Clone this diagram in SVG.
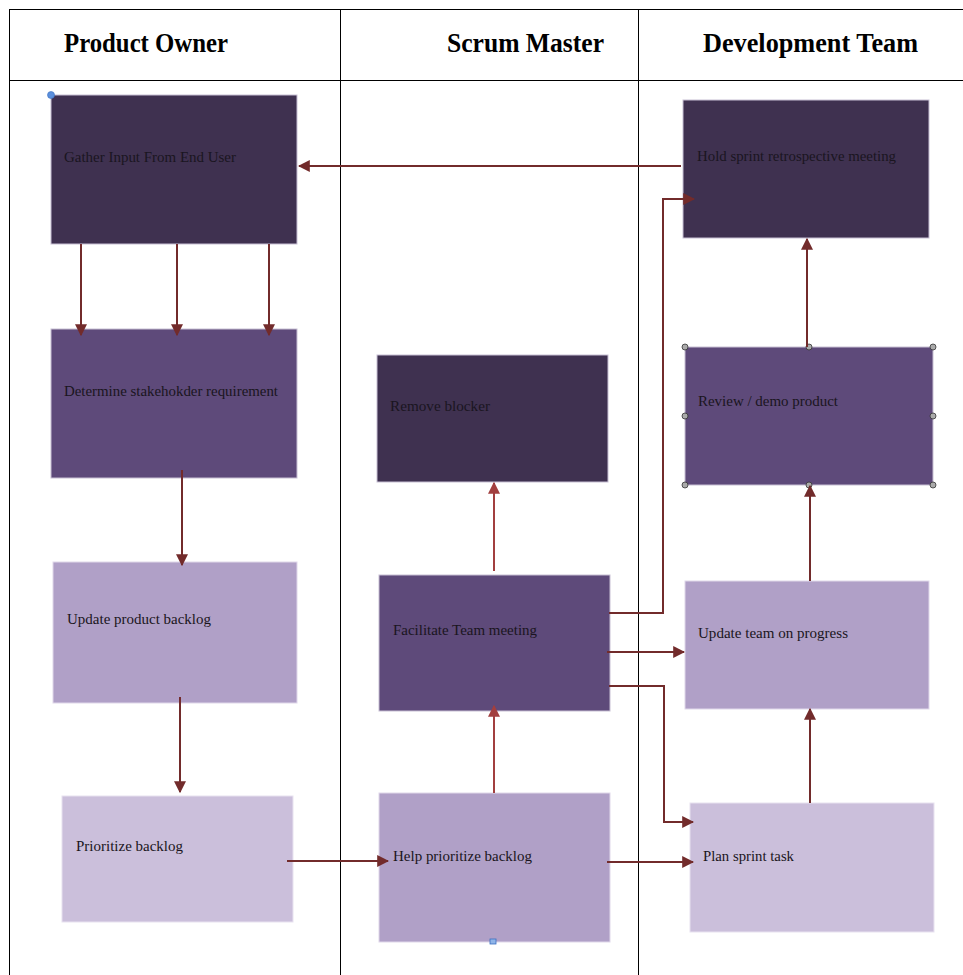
<svg xmlns="http://www.w3.org/2000/svg" width="963" height="975" viewBox="0 0 963 975">
<style>
.hdr{font-family:"Liberation Serif",serif;font-weight:bold;font-size:27px;fill:#000}
.lbl{font-family:"Liberation Serif",serif;font-size:15px;fill:#1a1520}
.c1{fill:#3f3150;stroke:#c8c0d4;stroke-width:1}
.c2{fill:#5e4a7a;stroke:#c8c0d4;stroke-width:1}
.c3{fill:#b0a0c7;stroke:#e0d8ea;stroke-width:1}
.c4{fill:#cbbfdb;stroke:#e8e2f0;stroke-width:1}
.cn{fill:none;stroke:#722b2b;stroke-width:2}
.cl{fill:none;stroke:#a23f3f;stroke-width:2}
.grid{stroke:#000;stroke-width:1;fill:none}
.hd{fill:#aaa;stroke:#333;stroke-width:0.8}
</style>
<defs>
<marker id="ah" viewBox="0 0 10 10" refX="9" refY="5" markerWidth="6" markerHeight="6" orient="auto" markerUnits="strokeWidth"><path d="M0,0 L10,5 L0,10 z" fill="#722b2b"/></marker>
<marker id="ahl" viewBox="0 0 10 10" refX="9" refY="5" markerWidth="6" markerHeight="6" orient="auto" markerUnits="strokeWidth"><path d="M0,0 L10,5 L0,10 z" fill="#a23f3f"/></marker>
</defs>
<rect width="963" height="975" fill="#fff"/>
<g id="table">
<line class="grid" x1="9" y1="9.5" x2="963" y2="9.5" stroke-width="1.5"/>
<line class="grid" x1="9.5" y1="9" x2="9.5" y2="975"/>
<line class="grid" x1="340.5" y1="9" x2="340.5" y2="975"/>
<line class="grid" x1="638.5" y1="9" x2="638.5" y2="975"/>
<line class="grid" x1="9" y1="80.5" x2="963" y2="80.5"/>
<text class="hdr" x="64" y="52" textLength="164" lengthAdjust="spacingAndGlyphs">Product Owner</text>
<text class="hdr" x="447" y="52" textLength="157" lengthAdjust="spacingAndGlyphs">Scrum Master</text>
<text class="hdr" x="703" y="52" textLength="215" lengthAdjust="spacingAndGlyphs">Development Team</text>
</g>
<g id="n-gather"><rect class="c1" x="51" y="95" width="246" height="149"/><text class="lbl" x="64" y="162" textLength="172" lengthAdjust="spacingAndGlyphs">Gather Input From End User</text><circle cx="51" cy="95" r="3.5" fill="#5b8fdc" stroke="#3a6fc0" stroke-width="0.6"/></g>
<g id="n-determine"><rect class="c2" x="51" y="329" width="246" height="149"/><text class="lbl" x="64" y="396" textLength="214" lengthAdjust="spacingAndGlyphs">Determine stakehokder requirement</text></g>
<g id="n-update-backlog"><rect class="c3" x="53" y="562" width="244" height="141"/><text class="lbl" x="67" y="624" textLength="144" lengthAdjust="spacingAndGlyphs">Update product backlog</text></g>
<g id="n-prioritize"><rect class="c4" x="62" y="796" width="231" height="126"/><text class="lbl" x="76" y="851" textLength="107" lengthAdjust="spacingAndGlyphs">Prioritize backlog</text></g>
<g id="n-remove"><rect class="c1" x="377" y="355" width="231" height="127"/><text class="lbl" x="390" y="411" textLength="100" lengthAdjust="spacingAndGlyphs">Remove blocker</text></g>
<g id="n-facilitate"><rect class="c2" x="379" y="575" width="231" height="136"/><text class="lbl" x="393" y="635" textLength="144" lengthAdjust="spacingAndGlyphs">Facilitate Team meeting</text></g>
<g id="n-help"><rect class="c3" x="379" y="793" width="231" height="149"/><text class="lbl" x="393" y="861" textLength="139" lengthAdjust="spacingAndGlyphs">Help prioritize backlog</text><rect x="490" y="939" width="6" height="5" fill="#8fb4e8" stroke="#3a6fc0" stroke-width="0.8"/></g>
<g id="n-hold"><rect class="c1" x="683" y="100" width="246" height="138"/><text class="lbl" x="697" y="161" textLength="199" lengthAdjust="spacingAndGlyphs">Hold sprint retrospective meeting</text></g>
<g id="n-review"><rect class="c2" x="685" y="347" width="248" height="138"/><text class="lbl" x="698" y="406" textLength="140" lengthAdjust="spacingAndGlyphs">Review / demo product</text>
<g class="hd"><circle cx="685" cy="347" r="3"/><circle cx="809" cy="347" r="3"/><circle cx="933" cy="347" r="3"/><circle cx="685" cy="416" r="3"/><circle cx="933" cy="416" r="3"/><circle cx="685" cy="485" r="3"/><circle cx="809" cy="485" r="3"/><circle cx="933" cy="485" r="3"/></g></g>
<g id="n-update-team"><rect class="c3" x="685" y="581" width="244" height="128"/><text class="lbl" x="698" y="638" textLength="150" lengthAdjust="spacingAndGlyphs">Update team on progress</text></g>
<g id="n-plan"><rect class="c4" x="690" y="803" width="244" height="129"/><text class="lbl" x="703" y="861" textLength="91" lengthAdjust="spacingAndGlyphs">Plan sprint task</text></g>
<g id="connectors">
<path class="cn" d="M681,166 L299,166" marker-end="url(#ah)"/>
<path class="cn" d="M81,244 L81,335" marker-end="url(#ah)"/>
<path class="cn" d="M177,244 L177,335" marker-end="url(#ah)"/>
<path class="cn" d="M269,244 L269,335" marker-end="url(#ah)"/>
<path class="cn" d="M182,470 L182,565" marker-end="url(#ah)"/>
<path class="cn" d="M180,697 L180,792" marker-end="url(#ah)"/>
<path class="cn" d="M287,861 L388,861" marker-end="url(#ah)"/>
<path class="cl" d="M494,793 L494,706" marker-end="url(#ahl)"/>
<path class="cl" d="M494,571 L494,483" marker-end="url(#ahl)"/>
<path class="cn" d="M609,613 L663,613 L663,199 L694,199" marker-end="url(#ah)"/>
<path class="cn" d="M607,652 L684,652" marker-end="url(#ah)"/>
<path class="cn" d="M609,686 L664,686 L664,822 L693,822" marker-end="url(#ah)"/>
<path class="cn" d="M607,862 L693,862" marker-end="url(#ah)"/>
<path class="cn" d="M810,803 L810,709" marker-end="url(#ah)"/>
<path class="cn" d="M810,581 L810,486" marker-end="url(#ah)"/>
<path class="cn" d="M807,347 L807,239" marker-end="url(#ah)"/>
</g>
</svg>
